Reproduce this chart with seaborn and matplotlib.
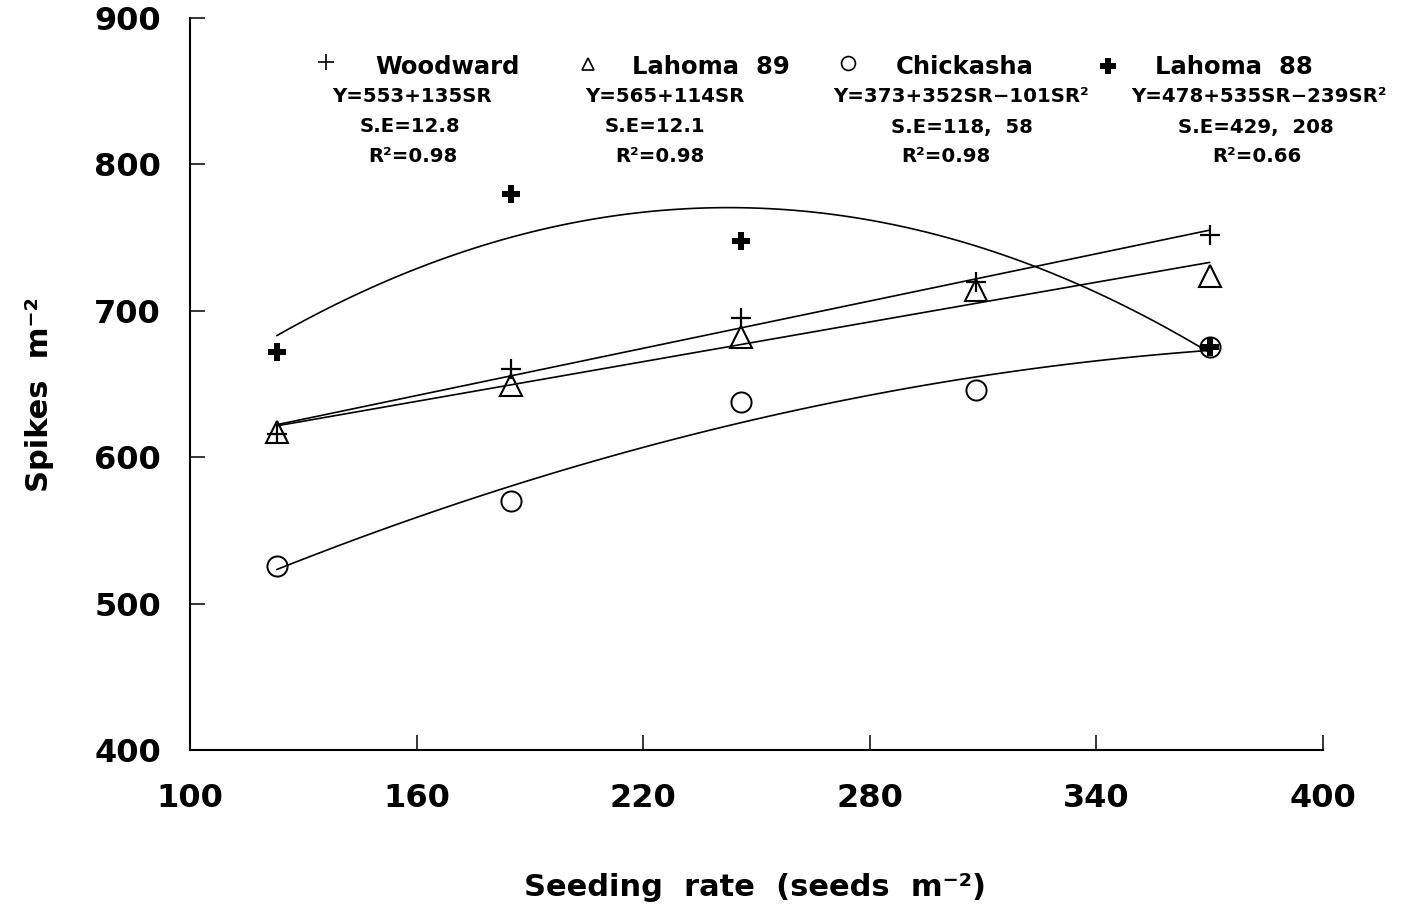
import matplotlib
matplotlib.use('Agg')
import matplotlib.pyplot as plt
import seaborn as sns
import numpy as np

# ---------------- data ----------------
seeding_rate = [123, 185, 246, 308, 370]
woodward = [616, 660, 695, 720, 752]
lahoma_89 = [617, 649, 682, 714, 724]
chickasha = [526, 570, 638, 646, 675]
lahoma_88_rate = [123, 185, 246, 370]
lahoma_88 = [672, 780, 748, 675]

x_ticks = [100, 160, 220, 280, 340, 400]
y_ticks = [400, 500, 600, 700, 800, 900]

site_names = ['Woodward', 'Lahoma  89', 'Chickasha', 'Lahoma  88']
equations = ['Y=553+135SR', 'Y=565+114SR', 'Y=373+352SR\u2212101SR\u00b2', 'Y=478+535SR\u2212239SR\u00b2']
std_errors = ['S.E=12.8', 'S.E=12.1', 'S.E=118,  58', 'S.E=429,  208']
r_squared = ['R\u00b2=0.98', 'R\u00b2=0.98', 'R\u00b2=0.98', 'R\u00b2=0.66']
fit_orders = [1, 1, 2, 2]

x_label = 'Seeding  rate  (seeds  m\u207b\u00b2)'
y_label = 'Spikes  m\u207b\u00b2'

# ---------------- style ----------------
sns.set_theme(style='white')
plt.rcParams['font.family'] = ['DejaVu Sans']
plt.rcParams['font.weight'] = 'bold'
plt.rcParams['text.color'] = 'black'
plt.rcParams['axes.labelcolor'] = 'black'

W, H = 1410, 907
fig = plt.figure(figsize=(W / 100, H / 100), dpi=100)
ax = fig.add_axes([190 / W, 1 - 750 / H, (1323 - 190) / W, (750 - 18) / H])

def fx(px):
    return px / W

def fy(py):
    return 1 - py / H

series = [(seeding_rate, woodward), (seeding_rate, lahoma_89),
          (seeding_rate, chickasha), (lahoma_88_rate, lahoma_88)]

# fitted curves
for (xs, ys), order in zip(series, fit_orders):
    sns.regplot(x=np.array(xs, float), y=np.array(ys, float), order=order, ci=None,
                scatter=False, truncate=True, ax=ax,
                line_kws=dict(color='black', lw=1.2))

marker_styles = [
    dict(marker='+', ms=15, mew=1.6, color='black'),
    dict(marker='^', ms=16, mew=1.5, mfc='none', mec='black'),
    dict(marker='o', ms=14.5, mew=1.4, mfc='none', mec='black'),
    dict(marker='P', ms=13, mew=0, color='black'),
]
header_styles = [
    dict(marker='+', ms=11, mew=1.2, color='black'),
    dict(marker='^', ms=9, mew=1.2, mfc='none', mec='black'),
    dict(marker='o', ms=10, mew=1.2, mfc='none', mec='black'),
    dict(marker='P', ms=11, mew=0, color='black'),
]

for (xs, ys), st in zip(series, marker_styles):
    ax.plot(xs, ys, ls='none', clip_on=False, zorder=4, **st)

ax.set_xlim(100, 400)
ax.set_ylim(400, 900)
ax.set_xticks(x_ticks)
ax.set_yticks(y_ticks)
ax.tick_params(axis='both', direction='in', length=11, width=1.1, colors='black',
               labelsize=23, bottom=True, left=True, top=False, right=False)
ax.tick_params(axis='y', pad=21)
ax.tick_params(axis='x', pad=24)
for lab in ax.get_xticklabels() + ax.get_yticklabels():
    lab.set_fontweight('bold')

for s in ['top', 'right']:
    ax.spines[s].set_visible(False)
for s in ['left', 'bottom']:
    ax.spines[s].set_color('black')
    ax.spines[s].set_linewidth(1.5)

ax.set_xlabel(x_label, fontsize=22, fontweight='bold', va='center', color='black')
ax.xaxis.set_label_coords((755 - 190) / 1133, (750 - 887) / 732)
ax.set_ylabel(y_label, fontsize=22, fontweight='bold', va='center', ha='center', color='black')
ax.yaxis.set_label_coords((40 - 190) / 1133, (750 - 395) / 732)

# header / equations
mark_pos = [(326, 62), (588, 64), (848, 63), (1108, 66)]
name_x = [375, 632, 896, 1155]
eq_x = [412, 665, 961, 1259]
se_x = [410, 655, 962, 1256]
r2_x = [413, 660, 946, 1257]

for i in range(4):
    mx, my = mark_pos[i]
    fig.lines.append(plt.Line2D([fx(mx)], [fy(my)], ls='none', transform=fig.transFigure,
                                **header_styles[i]))
    fig.text(fx(name_x[i]), fy(67), site_names[i], ha='left', va='center',
             fontsize=17.5, fontweight='bold', color='black')
    fig.text(fx(eq_x[i]), fy(96), equations[i], ha='center', va='center',
             fontsize=14.2, fontweight='bold', color='black')
    fig.text(fx(se_x[i]), fy(127), std_errors[i], ha='center', va='center',
             fontsize=14.2, fontweight='bold', color='black')
    fig.text(fx(r2_x[i]), fy(156), r_squared[i], ha='center', va='center',
             fontsize=14.2, fontweight='bold', color='black')

fig.savefig('out.png', dpi=100, facecolor='white')
